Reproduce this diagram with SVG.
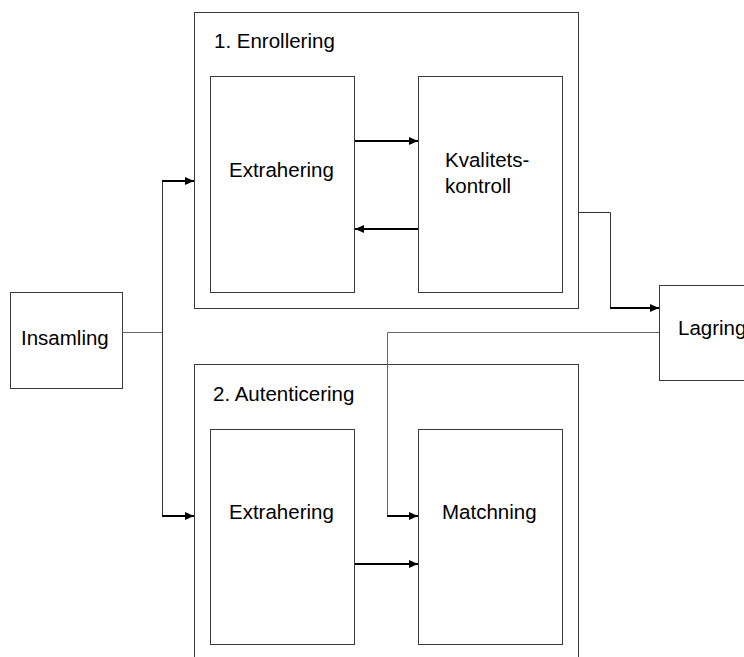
<svg xmlns="http://www.w3.org/2000/svg" width="744" height="657" viewBox="0 0 744 657">
<style>
.box{fill:#fff;stroke:#3a3a3a;stroke-width:1}
.t{font-family:"Liberation Sans",Arial,sans-serif;font-size:20.5px;fill:#000}
.thin{fill:none;stroke:#333;stroke-width:1}
.gray{fill:none;stroke:#666;stroke-width:1}
.arr{fill:none;stroke:#000;stroke-width:2;marker-end:url(#ah)}
</style>
<defs>
<marker id="ah" markerUnits="userSpaceOnUse" markerWidth="10" markerHeight="8" refX="9" refY="4" orient="auto">
<path d="M0,0 L9,4 L0,8 Z" fill="#000"/>
</marker>
</defs>
<rect width="744" height="657" fill="#fff"/>
<g id="enrollering">
<rect class="box" x="194.5" y="12.5" width="384" height="296"/>
<text class="t" x="214" y="48">1. Enrollering</text>
</g>
<g id="extrahering1">
<rect class="box" x="210.5" y="76.5" width="144" height="216"/>
<text class="t" x="229" y="177">Extrahering</text>
</g>
<g id="kvalitetskontroll">
<rect class="box" x="418.5" y="76.5" width="144" height="216"/>
<text class="t" x="445" y="167">Kvalitets-</text>
<text class="t" x="445" y="193">kontroll</text>
</g>
<g id="autenticering">
<rect class="box" x="194.5" y="364.5" width="384" height="310"/>
<text class="t" x="213" y="401">2. Autenticering</text>
</g>
<g id="extrahering2">
<rect class="box" x="210.5" y="429.5" width="144" height="215"/>
<text class="t" x="229" y="519">Extrahering</text>
</g>
<g id="matchning">
<rect class="box" x="418.5" y="429.5" width="144" height="215"/>
<text class="t" x="442" y="519">Matchning</text>
</g>
<g id="insamling">
<rect class="box" x="10.5" y="292.5" width="112" height="96"/>
<text class="t" x="21" y="345">Insamling</text>
</g>
<g id="lagring">
<rect class="box" x="659.5" y="285.5" width="100" height="95"/>
<text class="t" x="678" y="335">Lagring</text>
</g>
<g id="connectors">
<path class="gray" d="M122.5,332.5 H162.5"/>
<path class="thin" d="M162.5,181 V517"/>
<path class="arr" d="M162,181 H194"/>
<path class="arr" d="M162,516 H194"/>
<path class="arr" d="M355,141 H418"/>
<path class="arr" d="M418,229 H355"/>
<path class="thin" d="M578.5,212.5 H610.5 V308"/>
<path class="arr" d="M610,308 H659"/>
<path class="gray" d="M659,332.5 H387.5 V516"/>
<path class="arr" d="M387,516 H418"/>
<path class="arr" d="M355,564 H418"/>
</g>
</svg>
